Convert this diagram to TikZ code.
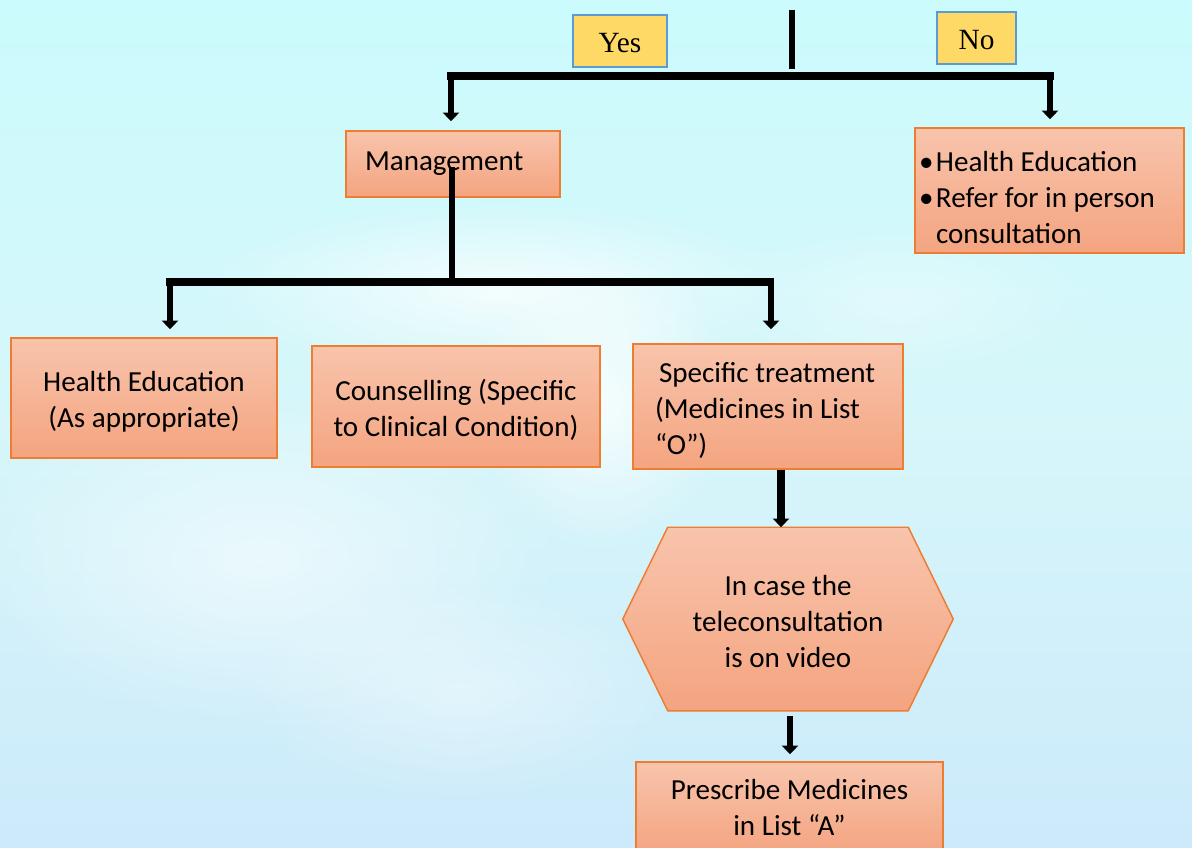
\documentclass[tikz,border=0pt]{standalone}
\usepackage{fontspec}
\setmainfont{Carlito}
\newfontfamily\serifyn{Liberation Serif}
\usetikzlibrary{arrows.meta,calc,fadings,backgrounds}

\definecolor{boxtop}{RGB}{248,196,172}
\definecolor{boxbot}{RGB}{244,164,128}
\definecolor{boxline}{RGB}{237,125,49}
\definecolor{tagfill}{RGB}{255,217,102}
\definecolor{tagline}{RGB}{91,155,213}
\definecolor{skytop}{RGB}{203,251,252}
\definecolor{skymid}{RGB}{214,246,250}
\definecolor{skybot}{RGB}{204,234,250}

\tikzfading[name=softspot, inner color=transparent!0, outer color=transparent!100]

% invisible strut that lowers a text block inside its box
\newcommand{\dropstrut}[1]{\rule{0pt}{#1}}

\begin{document}
\begin{tikzpicture}[x=0.75pt,y=-0.75pt,
  box/.style={draw=boxline, line width=1.1pt, top color=boxtop, bottom color=boxbot,
              font=\fontsize{21.8}{27}\selectfont, inner sep=0pt},
  tag/.style={draw=tagline, line width=0.9pt, fill=tagfill,
              font=\serifyn\fontsize{22}{26}\selectfont, inner sep=0pt},
  bar/.style={line width=6pt},
  stem/.style={line width=4.5pt},
  arr/.style={line width=4.5pt, -{Triangle[width=12pt,length=6.5pt]}},
  haze/.style={fill=white, path fading=softspot},
]
\useasboundingbox (0,0) rectangle (1192,847);

% sky backdrop with soft light patches
\begin{scope}[on background layer]
  \shade[top color=skytop, bottom color=skybot, middle color=skymid] (0,0) rectangle (1192,847);
  \fill[haze, opacity=0.75] (500,290) ellipse (300 and 90);
  \fill[haze, opacity=0.8] (600,400) ellipse (130 and 150);
  \fill[haze, opacity=0.55] (260,560) ellipse (300 and 170);
  \fill[haze, opacity=0.4] (460,690) ellipse (220 and 110);
  \fill[haze, opacity=0.35] (900,300) ellipse (200 and 80);
\end{scope}

% decision tags
\node[tag, minimum width=70.5pt, minimum height=39pt] (yes) at (620,41) {\dropstrut{17pt}Yes};
\node[tag, minimum width=59.25pt, minimum height=39pt] (no) at (976.5,38) {\dropstrut{17pt}No};

% boxes
\node[box, minimum width=160.5pt, minimum height=49.5pt, text width=132pt, align=flush left]
  (mgmt) at (453,164) {Management};
\node[box, minimum width=201.75pt, minimum height=93.75pt, text width=195.75pt, align=flush left]
  (refer) at (1049.5,190.5)
  {\dropstrut{25pt}\makebox[12.75pt][l]{\textbullet}Health Education\\
   \makebox[12.75pt][l]{\textbullet}Refer for in person\\
   \hspace*{12.75pt}consultation};
\node[box, minimum width=199.5pt, minimum height=90pt, align=center]
  (hed) at (144,398) {\dropstrut{20pt}Health Education\\(As appropriate)};
\node[box, minimum width=216pt, minimum height=90.75pt, align=center]
  (couns) at (456,406.5) {\dropstrut{20.5pt}Counselling (Specific\\to Clinical Condition)};
\node[box, minimum width=202.5pt, minimum height=93.75pt, text width=169.5pt, align=flush left]
  (spec) at (768,406.5) {\dropstrut{21pt}\hspace*{3pt}Specific treatment\\(Medicines in List\\“O”)};
\node[minimum width=247.5pt, minimum height=137.25pt, inner sep=0pt, align=center,
      font=\fontsize{21.8}{27}\selectfont]
  (hex) at (788,619) {\dropstrut{19.5pt}In case the\\teleconsultation\\is on video};
\node[box, minimum width=230.25pt, minimum height=69pt, align=center]
  (presc) at (789.5,808) {Prescribe Medicines\\in List “A”};

% hexagonal outline behind the video node
\begin{scope}[on background layer]
  \path[draw=boxline, line width=1.1pt, top color=boxtop, bottom color=boxbot]
    (hex.west) -- ($(hex.north west)+(45,0)$) -- ($(hex.north east)+(-45,0)$)
    -- (hex.east) -- ($(hex.south east)+(-45,0)$) -- ($(hex.south west)+(45,0)$) -- cycle;
\end{scope}

% first split
\coordinate (stemtop) at (792,10);
\coordinate (fork1) at (792,69);
\coordinate (bar1L) at (447,76);
\coordinate (bar1R) at (1054,76);
\coordinate (drop1L) at (451,76);
\coordinate (drop1R) at (1050,76);
\draw[stem] (stemtop) -- (fork1);
\draw[bar] (bar1L) -- (bar1R);
\draw[arr, shorten >=6.75pt] (drop1L) -- (drop1L |- mgmt.north);
\draw[arr, line width=5pt, shorten >=6pt] (drop1R) -- (drop1R |- refer.north);

% second split
\coordinate (fork2) at (452,282);
\coordinate (bar2L) at (166,282);
\coordinate (bar2R) at (774,282);
\coordinate (drop2L) at (170,282);
\coordinate (drop2R) at (771,282);
\draw[line width=5pt] ($(mgmt.center)+(-1,3)$) -- (fork2);
\draw[bar] (bar2L) -- (bar2R);
\draw[arr, shorten >=6pt] (drop2L) -- (drop2L |- hed.north);
\draw[arr, shorten >=10.5pt] (drop2R) -- (drop2R |- spec.north);

% chain below the treatment box
\draw[arr, line width=5.5pt] ([xshift=9.75pt]spec.south) -- ([xshift=9.75pt]spec.south |- hex.north);
\draw[arr, line width=5pt, shorten >=5.25pt] ([xshift=1.5pt,yshift=-3.75pt]hex.south)
  -- ([xshift=1.5pt]hex.south |- presc.north);
\end{tikzpicture}
\end{document}
